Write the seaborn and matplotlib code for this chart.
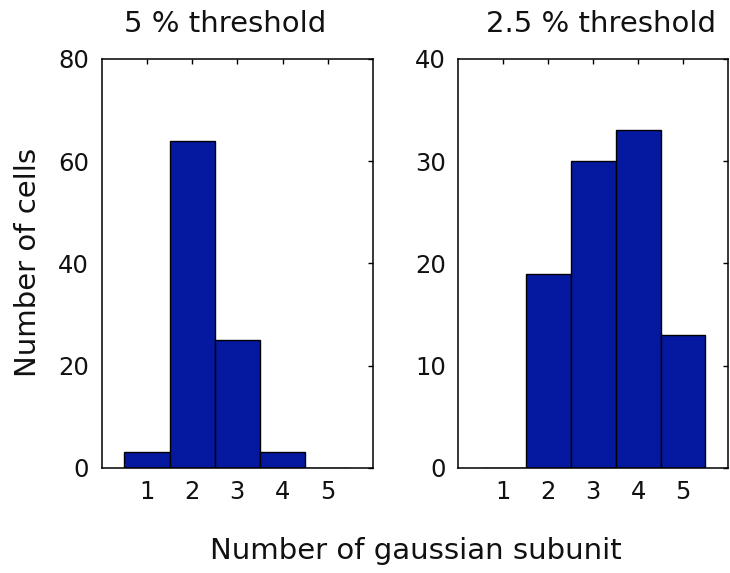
import matplotlib
matplotlib.use("Agg")
import matplotlib.pyplot as plt
import seaborn as sns
import pandas as pd

subunits = [1, 2, 3, 4, 5]
counts_5pct = [3, 64, 25, 3, 0]
counts_2p5pct = [0, 19, 30, 33, 13]
titles = ["5 % threshold", "2.5 % threshold"]
yticks_left = [0, 20, 40, 60, 80]
yticks_right = [0, 10, 20, 30, 40]
xlabel = "Number of gaussian subunit"
ylabel = "Number of cells"

sns.set_theme(style="white")
plt.rcParams["font.family"] = ["DejaVu Sans"]

bar_color = "#0418a0"

fig = plt.figure(figsize=(7.3, 5.73), dpi=100)
ax1 = fig.add_axes([0.1393, 0.1838, 0.3716, 0.7133])
ax2 = fig.add_axes([0.628, 0.1838, 0.3692, 0.7133])

panels = [
    (ax1, counts_5pct, yticks_left),
    (ax2, counts_2p5pct, yticks_right),
]
for ax, counts, yt in panels:
    df = pd.DataFrame({"n": subunits, "count": counts})
    sns.barplot(data=df, x="n", y="count", native_scale=True, width=1,
                color=bar_color, saturation=1, edgecolor="black",
                linewidth=1.0, ax=ax)
    ax.set_xlim(0, 6)
    ax.set_ylim(yt[0], yt[-1])
    ax.set_xticks(subunits)
    ax.set_xticklabels([str(s) for s in subunits])
    ax.set_yticks(yt)
    ax.set_yticklabels([str(v) for v in yt])
    ax.set_xlabel("")
    ax.set_ylabel("")
    ax.tick_params(direction="in", length=3.5, width=1, color="black",
                   top=True, right=True, labelsize=17.5, pad=9,
                   labelcolor="#111111")
    for sp in ax.spines.values():
        sp.set_visible(True)
        sp.set_color("black")
        sp.set_linewidth(1.1)

fig.text(225 / 730, 1 - 24 / 573, titles[0], ha="center", va="center",
         fontsize=21, color="#111111")
fig.text(601 / 730, 1 - 24 / 573, titles[1], ha="center", va="center",
         fontsize=21, color="#111111")
fig.text(416 / 730, 1 - 551 / 573, xlabel, ha="center", va="center",
         fontsize=21, color="#111111")
fig.text(28 / 730, 1 - 262 / 573, ylabel, ha="center", va="center",
         rotation=90, fontsize=21, color="#111111")

fig.savefig("out.png", dpi=100)
